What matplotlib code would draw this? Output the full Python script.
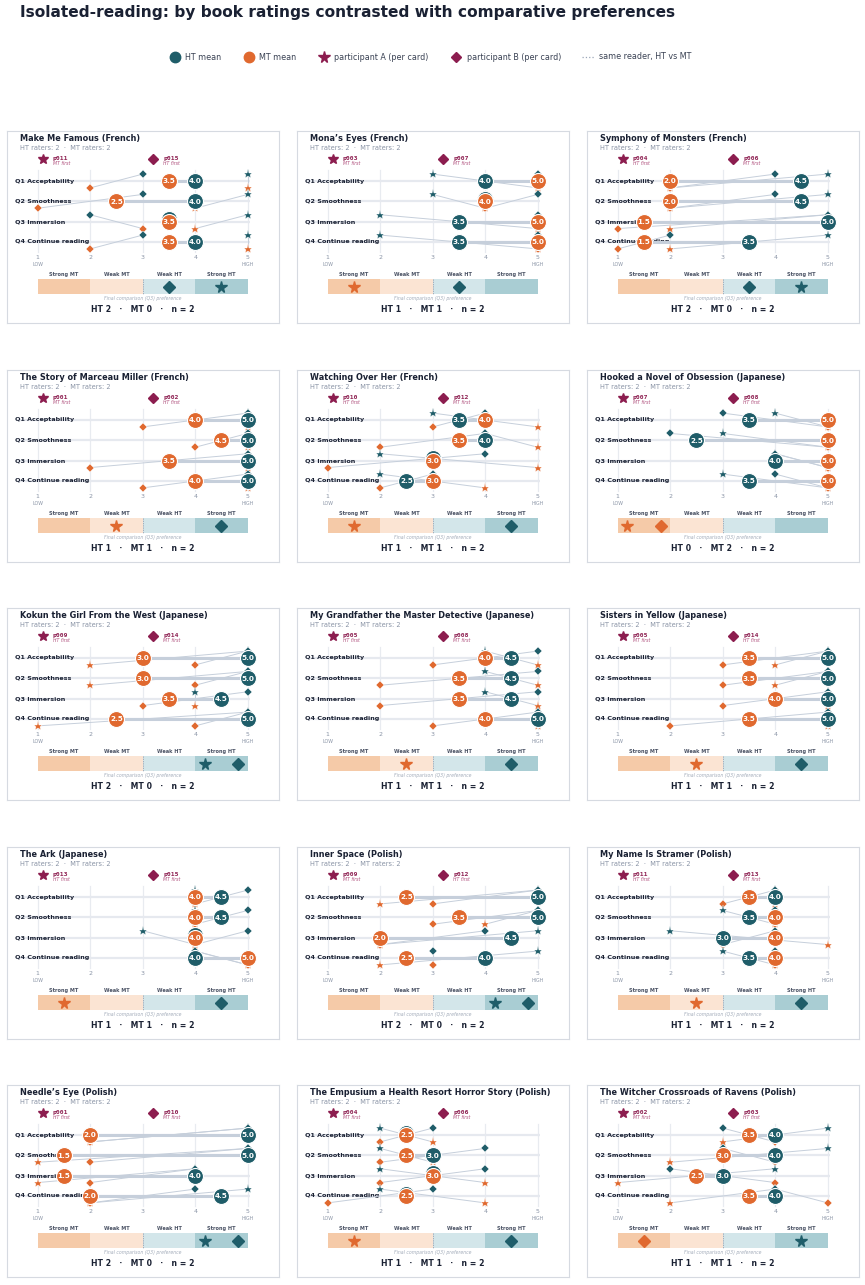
import matplotlib.pyplot as plt
from matplotlib.lines import Line2D
from matplotlib.patches import Rectangle

# ===========================
# DATA
# ===========================
TITLE = "Isolated-reading: by book ratings contrasted with comparative preferences"

BOOKS = [
    "Make Me Famous (French)", "Mona’s Eyes (French)", "Symphony of Monsters (French)",
    "The Story of Marceau Miller (French)", "Watching Over Her (French)",
    "Hooked a Novel of Obsession (Japanese)",
    "Kokun the Girl From the West (Japanese)", "My Grandfather the Master Detective (Japanese)",
    "Sisters in Yellow (Japanese)",
    "The Ark (Japanese)", "Inner Space (Polish)", "My Name Is Stramer (Polish)",
    "Needle’s Eye (Polish)", "The Empusium a Health Resort Horror Story (Polish)",
    "The Witcher Crossroads of Ravens (Polish)",
]
QUESTIONS = ["Q1 Acceptability", "Q2 Smoothness", "Q3 Immersion", "Q4 Continue reading"]

PART_A = ["p011", "p003", "p004", "p001", "p010", "p007", "p009", "p005", "p005",
          "p013", "p009", "p011", "p001", "p004", "p002"]
ORDER_A = ["MT first", "MT first", "HT first", "MT first", "HT first", "MT first", "HT first",
           "HT first", "MT first", "HT first", "MT first", "HT first", "HT first", "MT first",
           "MT first"]
PART_B = ["p015", "p007", "p006", "p002", "p012", "p008", "p014", "p008", "p014",
          "p015", "p012", "p013", "p010", "p006", "p003"]
ORDER_B = ["HT first", "MT first", "MT first", "HT first", "MT first", "HT first", "MT first",
           "MT first", "HT first", "MT first", "HT first", "MT first", "MT first", "MT first",
           "HT first"]

# per-card ratings, one row per book, Q1..Q4
A_HT = [[5, 5, 5, 5], [3, 3, 2, 2], [5, 5, 5, 5], [5, 5, 5, 5], [3, 4, 2, 2],
        [4, 3, 4, 3], [5, 5, 4, 5], [4, 4, 4, 5], [5, 5, 5, 5], [4, 4, 3, 4],
        [5, 5, 5, 5], [4, 3, 2, 3], [5, 5, 4, 5], [2, 2, 2, 2], [5, 5, 4, 4]]
A_MT = [[5, 4, 4, 5], [5, 4, 5, 5], [2, 2, 2, 2], [5, 5, 5, 5], [5, 5, 5, 4],
        [5, 5, 5, 5], [2, 2, 4, 1], [5, 5, 5, 5], [4, 4, 5, 5], [4, 4, 4, 5],
        [2, 4, 2, 2], [4, 4, 5, 4], [2, 1, 1, 2], [3, 3, 4, 4], [3, 2, 1, 2]]
B_HT = [[3, 3, 2, 3], [5, 5, 5, 5], [4, 4, 5, 2], [5, 5, 5, 5], [4, 4, 4, 3],
        [3, 2, 4, 4], [5, 5, 5, 5], [5, 5, 5, 5], [5, 5, 5, 5], [5, 5, 5, 4],
        [5, 5, 4, 3], [4, 4, 4, 4], [5, 5, 4, 4], [3, 4, 4, 3], [3, 3, 2, 4]]
B_MT = [[2, 1, 3, 2], [5, 4, 5, 5], [2, 2, 1, 1], [3, 4, 2, 3], [3, 2, 1, 2],
        [5, 5, 5, 5], [4, 4, 3, 4], [3, 2, 2, 3], [3, 3, 3, 2], [4, 4, 4, 5],
        [3, 3, 2, 3], [3, 4, 3, 4], [2, 2, 2, 2], [2, 2, 2, 1], [4, 4, 4, 5]]

# final comparison (Q3) preference
PREF_A = ["SHT", "SMT", "SHT", "WMT", "SMT", "SMT", "SHT", "WMT", "WMT",
          "SMT", "SHT", "WMT", "SHT", "SMT", "SHT"]
PREF_B = ["WHT", "WHT", "WHT", "SHT", "SHT", "SMT", "SHT", "SHT", "SHT",
          "SHT", "SHT", "SHT", "SHT", "SHT", "SMT"]
PREF_KEYS = ["SMT", "WMT", "WHT", "SHT"]
PREF_LABELS = ["Strong MT", "Weak MT", "Weak HT", "Strong HT"]
HT_RATERS = 2
MT_RATERS = 2

# ===========================
# STYLE
# ===========================
TEAL = "#1f5d69"
ORANGE = "#e0692f"
MAGENTA = "#8c1d4f"
DARK = "#1a2133"
GREY = "#8a94a6"
LINE = "#c6cfdb"
PREF_COLORS = ["#f5caa8", "#fbe4d3", "#d3e6ea", "#a9cdd3"]

W, H = 865, 1285
BOX_W, BOX_H = 272, 192
COL_LEFT = [7, 297, 587]
ROW_TOP = [131, 370, 608, 847, 1085]
PX_X = 52.5      # px per rating unit
PX_Y = 20.33     # px per question row
X0 = 30.7        # px from box left to rating 1
Y0 = 50.0        # px from box top to Q1

fig = plt.figure(figsize=(W / 100, H / 100), dpi=100)
fig.text(20 / W, 1 - 13 / H, TITLE, fontsize=11.1, fontweight="bold", color=DARK, va="center")

handles = [
    Line2D([], [], marker="o", ls="", color=TEAL, ms=7.5),
    Line2D([], [], marker="o", ls="", color=ORANGE, ms=7.5),
    Line2D([], [], marker="*", ls="", color=MAGENTA, ms=8.5),
    Line2D([], [], marker="D", ls="", color=MAGENTA, ms=5.5),
    Line2D([], [], ls=":", color="#9aa6b8", lw=0.9),
]
labels = ["HT mean", "MT mean", "participant A (per card)", "participant B (per card)",
          "same reader, HT vs MT"]
fig.legend(handles, labels, loc="center", bbox_to_anchor=(0.497, 1 - 57 / H), ncol=5,
           frameon=False, fontsize=5.8, handletextpad=0.5, columnspacing=2.6,
           handlelength=1.6, labelcolor="#3a4254")


def draw_panel(ax, i):
    lo = 1 - X0 / PX_X
    ax.set_xlim(lo, lo + BOX_W / PX_X)
    ax.set_ylim((BOX_H - Y0) / PX_Y, -Y0 / PX_Y)
    ax.set_xticks([])
    ax.set_yticks([])
    for s in ax.spines.values():
        s.set_color("#d6dae1")
        s.set_linewidth(0.8)

    tx = lo + 13.3 / PX_X
    ax.text(tx, -2.10, BOOKS[i], fontsize=5.9, fontweight="bold", color=DARK, va="center")
    ax.text(tx, -1.62, f"HT raters: {HT_RATERS}  ·  MT raters: {MT_RATERS}", fontsize=4.8,
            color=GREY, va="center")

    # participant key
    for px, mk, ms, pid, order in [(1.1, "*", 7.5, PART_A[i], ORDER_A[i]),
                                   (3.2, "D", 5.2, PART_B[i], ORDER_B[i])]:
        ax.plot(px, -1.10, marker=mk, ms=ms, color=MAGENTA, ls="")
        ax.text(px + 0.19, -1.12, pid, fontsize=4.6, fontweight="bold", color=MAGENTA,
                family="DejaVu Sans Mono", va="center")
        ax.text(px + 0.19, -0.84, order, fontsize=3.3, style="italic", color="#b0507d",
                va="center")

    # grid
    for x in range(1, 6):
        ax.plot([x, x], [-0.55, 3.5], color="#e8ebf0", lw=0.9, zorder=0)
        ax.text(x, 3.75, str(x), fontsize=4.5, color=GREY, ha="center", va="center")
    ax.text(1, 4.10, "LOW", fontsize=3.4, color=GREY, ha="center", va="center")
    ax.text(5, 4.10, "HIGH", fontsize=3.4, color=GREY, ha="center", va="center")

    for q, label in enumerate(QUESTIONS):
        ax.plot([0.6, 5.05], [q, q], color="#e6e9ef", lw=1.6, zorder=0.5,
                solid_capstyle="butt")
        ax.text(lo + 7.7 / PX_X, q, label, fontsize=4.6, fontweight="bold", color=DARK,
                va="center", zorder=1)

        # participant cards: HT above the row, MT below
        for ht, mt, mk, ms in [(A_HT[i][q], A_MT[i][q], "*", 6.8),
                               (B_HT[i][q], B_MT[i][q], "D", 4.4)]:
            ax.plot([ht, mt], [q - 0.34, q + 0.34], color=LINE, lw=0.7, zorder=2)
            ax.plot(ht, q - 0.34, marker=mk, ms=ms, color=TEAL, ls="", zorder=3,
                    mec="white", mew=0.3)
            ax.plot(mt, q + 0.34, marker=mk, ms=ms, color=ORANGE, ls="", zorder=3,
                    mec="white", mew=0.3)

        ht_mean = (A_HT[i][q] + B_HT[i][q]) / 2
        mt_mean = (A_MT[i][q] + B_MT[i][q]) / 2
        y_ht = q - 0.12 if ht_mean == mt_mean else q
        ax.plot([ht_mean, mt_mean], [q, q], color=LINE, lw=2.2, zorder=4,
                solid_capstyle="butt")
        # HT circle first, MT circle drawn over it
        for val, y, c, z in [(ht_mean, y_ht, TEAL, 5), (mt_mean, q, ORANGE, 7)]:
            ax.plot(val, y, marker="o", ms=11.5, color=c, mec="white", mew=0.8, ls="",
                    zorder=z)
            ax.text(val, y + 0.02, f"{val:.1f}", fontsize=5.2, fontweight="bold",
                    color="white", ha="center", va="center", zorder=z + 0.5)

    # preference strip
    for k, (lab, col) in enumerate(zip(PREF_LABELS, PREF_COLORS)):
        ax.add_patch(Rectangle((1 + k, 4.83), 1, 0.74, color=col, lw=0, zorder=1))
        ax.text(1.5 + k, 4.61, lab, fontsize=3.6, fontweight="bold", color="#4a5264",
                ha="center", va="center")
    ax.plot([3, 3], [4.83, 5.57], color="#9aa3b2", lw=0.6, ls=(0, (1.5, 1.2)), zorder=2)

    prefs = [(PREF_A[i], "*", 8.5), (PREF_B[i], "D", 6.2)]
    for j, (p, mk, ms) in enumerate(prefs):
        k = PREF_KEYS.index(p)
        shared = sum(1 for pp, _, _ in prefs if pp == p) > 1
        xc = 1.5 + k + ((-0.32 if j == 0 else 0.32) if shared else 0)
        col = TEAL if p in ("WHT", "SHT") else ORANGE
        ax.plot(xc, 5.2, marker=mk, ms=ms, color=col, ls="", zorder=3)

    ax.text(3, 5.77, "Final comparison (Q3) preference", fontsize=3.3, style="italic",
            color="#a3acba", ha="center", va="center")
    n_ht = sum(p in ("WHT", "SHT") for p in (PREF_A[i], PREF_B[i]))
    n_mt = 2 - n_ht
    ax.text(3, 6.33, f"HT {n_ht}   ·   MT {n_mt}   ·   n = 2", fontsize=5.6,
            fontweight="bold", color=DARK, ha="center", va="center")


for i in range(len(BOOKS)):
    r, c = divmod(i, 3)
    bx, by = COL_LEFT[c], ROW_TOP[r]
    ax = fig.add_axes([bx / W, 1 - (by + BOX_H) / H, BOX_W / W, BOX_H / H])
    draw_panel(ax, i)

fig.savefig("out.png", dpi=100, facecolor="white")
